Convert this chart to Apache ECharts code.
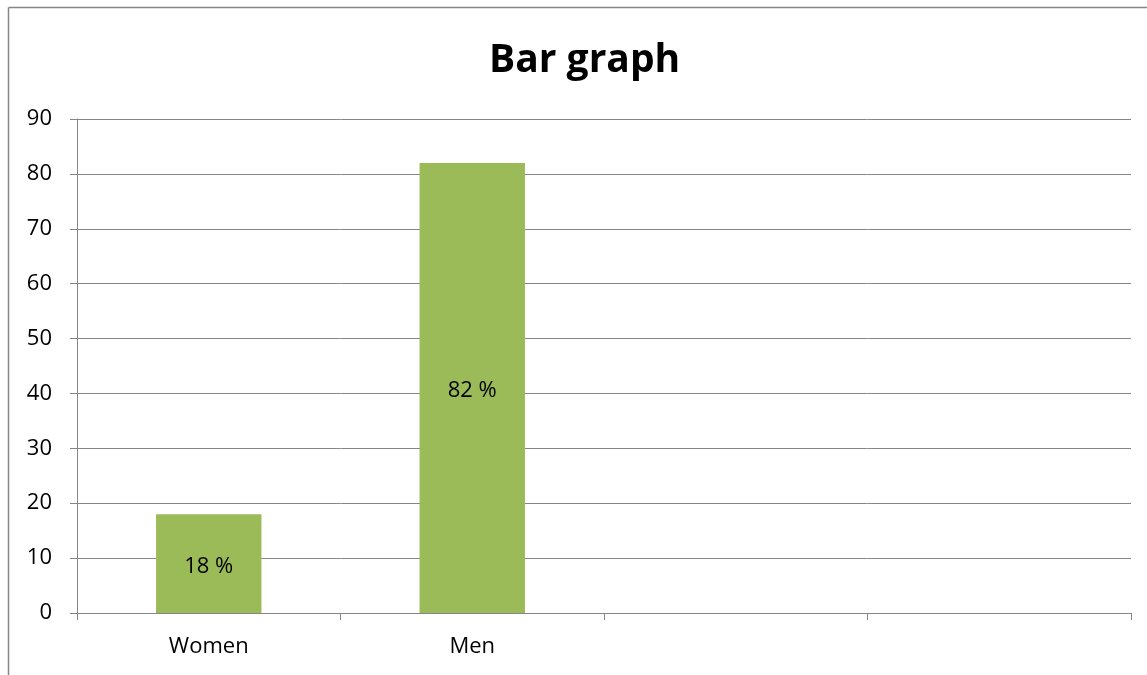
<!DOCTYPE html>
<html>
<head>
<meta charset="utf-8">
<script src="https://cdn.jsdelivr.net/npm/echarts@6/dist/echarts.min.js"></script>
<style>
html,body{margin:0;padding:0;background:#fff;}
#chart{width:1147px;height:675px;}
</style>
</head>
<body>
<div id="chart"></div>
<script>
const titleText = 'Bar graph';
const categories = ['Women', 'Men', '', ''];
const values = [18, 82, null, null];
const labelTexts = ['18 %', '82 %', '', ''];
const yTicks = { min: 0, max: 90, interval: 10 };

const FONT = 'Open Sans';
const GRAY = '#868686';

const chart = echarts.init(document.getElementById('chart'), null, { renderer: 'canvas' });
chart.setOption({
  backgroundColor: '#ffffff',
  animation: false,
  graphic: [
    { type: 'line', shape: { x1: 8.5, y1: 7.5, x2: 1200, y2: 7.5 }, style: { stroke: GRAY, lineWidth: 1.5 }, silent: true },
    { type: 'line', shape: { x1: 8.5, y1: 7.5, x2: 8.5, y2: 800 }, style: { stroke: GRAY, lineWidth: 1.5 }, silent: true }
  ],
  title: {
    text: titleText,
    left: 484,
    top: 36,
    textStyle: { fontFamily: FONT, fontSize: 39, fontWeight: 'bold', color: '#000' }
  },
  grid: { left: 77, right: 16, top: 119, bottom: 62, containLabel: false },
  xAxis: {
    type: 'category',
    data: categories,
    boundaryGap: true,
    axisLine: { show: true, lineStyle: { color: GRAY, width: 1 } },
    axisTick: { show: true, length: 7, alignWithLabel: false, lineStyle: { color: GRAY } },
    axisLabel: { margin: 23, fontFamily: FONT, fontSize: 22, color: '#000', interval: 0 },
    splitLine: { show: false }
  },
  yAxis: {
    type: 'value',
    min: yTicks.min,
    max: yTicks.max,
    interval: yTicks.interval,
    axisLine: { show: true, lineStyle: { color: GRAY, width: 1 } },
    axisTick: { show: true, length: 7, lineStyle: { color: GRAY } },
    axisLabel: { margin: 25, fontFamily: FONT, fontSize: 22, color: '#000' },
    splitLine: { show: true, lineStyle: { color: GRAY, width: 1 } }
  },
  series: [{
    type: 'bar',
    data: values,
    barWidth: '40%',
    itemStyle: { color: '#9BBB59' },
    label: {
      show: true,
      position: 'inside',
      offset: [0, 3],
      fontFamily: FONT,
      fontSize: 22,
      color: '#000',
      formatter: function (p) { return labelTexts[p.dataIndex]; }
    }
  }]
});
</script>
</body>
</html>
